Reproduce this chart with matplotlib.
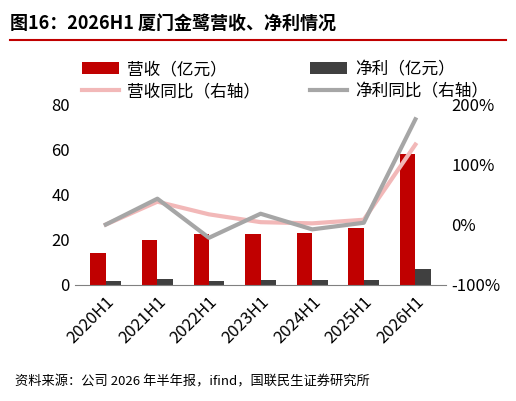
import matplotlib
matplotlib.use("Agg")
import matplotlib.pyplot as plt
import numpy as np

plt.rcParams['font.family'] = ['Noto Sans CJK SC', 'DejaVu Sans']

categories = ["2020H1", "2021H1", "2022H1", "2023H1", "2024H1", "2025H1", "2026H1"]
revenue = [14.2, 20.0, 22.7, 22.7, 23.0, 25.0, 58.0]
profit = [1.5, 2.5, 1.8, 2.2, 2.2, 2.2, 7.0]
rev_yoy = [0, 38, 17, 4, 2, 8, 133]
prof_yoy = [0, 43, -22, 18, -8, 3, 175]

fig = plt.figure(figsize=(5.16, 4.01), dpi=100)
ax = fig.add_axes([0.145, 0.29, 0.72, 0.45])
ax2 = ax.twinx()
x = np.arange(len(categories))
w = 0.3
b1 = ax.bar(x - w/2, revenue, w, color='#C00000', label='营收（亿元）')
b2 = ax.bar(x + w/2, profit, w, color='#404040', label='净利（亿元）')
l1, = ax2.plot(x, rev_yoy, color='#F2B8B8', lw=3, label='营收同比（右轴）')
l2, = ax2.plot(x, prof_yoy, color='#A6A6A6', lw=3, label='净利同比（右轴）')
ax.set_ylim(0, 80)
ax.set_yticks([0, 20, 40, 60, 80])
ax2.set_ylim(-100, 200)
ax2.set_yticks([-100, 0, 100, 200])
ax2.set_yticklabels(['-100%', '0%', '100%', '200%'])
ax.set_xlim(-0.6, 6.6)
ax.set_xticks(x)
ax.set_xticklabels(categories, rotation=45, ha='right', rotation_mode='anchor')
for a in (ax, ax2):
    for s in a.spines.values():
        s.set_visible(False)
    a.tick_params(length=0, labelsize=12)
ax.spines['bottom'].set_visible(True)
ax.spines['bottom'].set_color('#808080')
ax.tick_params(axis='x', pad=6)
fig.legend(handles=[b1, l1, b2, l2], loc='upper left', bbox_to_anchor=(0.13, 0.885),
           ncol=2, frameon=False, fontsize=12, handlelength=2.2, columnspacing=3.0,
           handletextpad=0.5, labelspacing=0.3)
fig.text(0.02, 0.965, '图16：2026H1 厦门金鹭营收、净利情况', fontsize=13, fontweight='bold', va='top')
fig.add_artist(plt.Line2D([0.02, 0.98], [0.9, 0.9], color='#C00000', lw=1.5))
fig.text(0.03, 0.03, '资料来源：公司 2026 年半年报，ifind，国联民生证券研究所', fontsize=9.5, va='bottom')
fig.savefig('out.png', dpi=100)
